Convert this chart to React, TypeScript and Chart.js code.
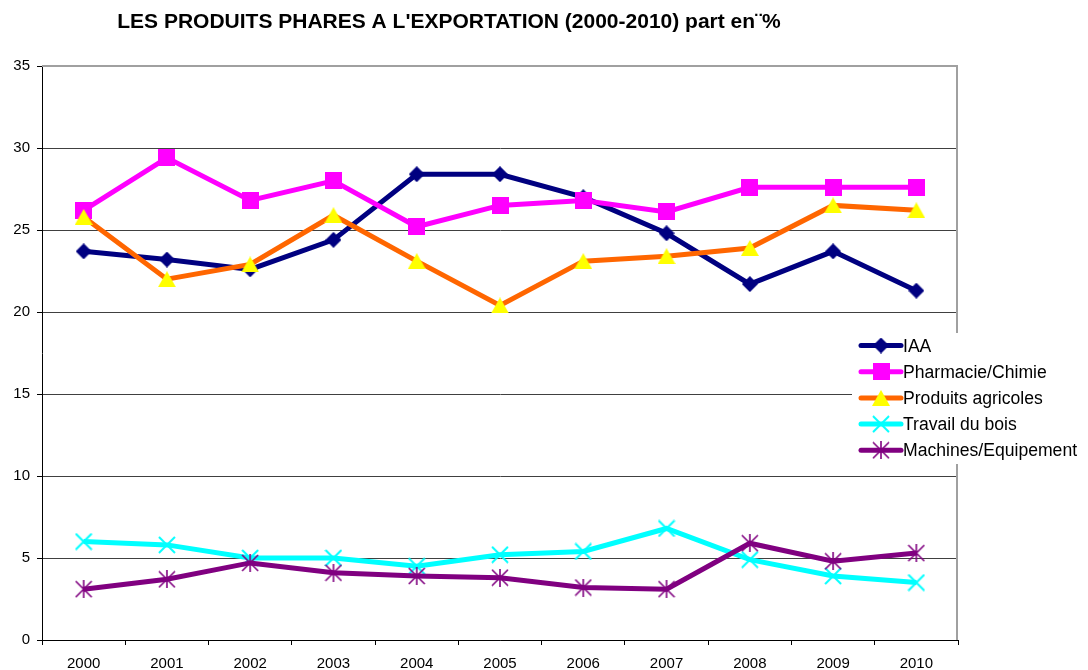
import React, { useEffect, useRef } from "react";
import { Chart, registerables } from "chart.js";

Chart.register(...registerables);

const years = ["2000", "2001", "2002", "2003", "2004", "2005", "2006", "2007", "2008", "2009", "2010"];
const iaa = [23.7, 23.2, 22.6, 24.4, 28.4, 28.4, 27.0, 24.8, 21.7, 23.7, 21.3];
const pharmacie = [26.2, 29.4, 26.8, 28.0, 25.2, 26.5, 26.8, 26.1, 27.6, 27.6, 27.6];
const agricoles = [25.8, 22.0, 22.9, 25.9, 23.1, 20.4, 23.1, 23.4, 23.9, 26.5, 26.2];
const bois = [6.0, 5.8, 5.0, 5.0, 4.5, 5.2, 5.4, 6.8, 4.9, 3.9, 3.5];
const machines = [3.1, 3.7, 4.7, 4.1, 3.9, 3.8, 3.2, 3.1, 5.9, 4.8, 5.3];
const seriesNames = ["IAA", "Pharmacie/Chimie", "Produits agricoles", "Travail du bois", "Machines/Equipement"];
const titleText = "LES PRODUITS PHARES A L'EXPORTATION (2000-2010) part en¨%";

const FONT = "'Liberation Sans', Arial, sans-serif";

function makeMarker(kind: string): HTMLCanvasElement {
  const c = document.createElement("canvas");
  const ctx = c.getContext("2d")!;
  if (kind === "diamond") {
    c.width = 16; c.height = 16;
    ctx.fillStyle = "#000080";
    ctx.beginPath();
    ctx.moveTo(0, 8); ctx.lineTo(8, 0); ctx.lineTo(16, 8); ctx.lineTo(8, 16); ctx.closePath();
    ctx.fill();
  } else if (kind === "square") {
    c.width = 17; c.height = 17;
    ctx.fillStyle = "#FF00FF";
    ctx.fillRect(0, 0, 17, 17);
  } else if (kind === "triangle") {
    c.width = 18; c.height = 16;
    ctx.fillStyle = "#FFFF00";
    ctx.beginPath();
    ctx.moveTo(9, 0); ctx.lineTo(18, 16); ctx.lineTo(0, 16); ctx.closePath();
    ctx.fill();
  } else if (kind === "cross") {
    c.width = 18; c.height = 18;
    ctx.strokeStyle = "#00FFFF";
    ctx.lineWidth = 2;
    ctx.beginPath();
    ctx.moveTo(1, 1); ctx.lineTo(17, 17);
    ctx.moveTo(17, 1); ctx.lineTo(1, 17);
    ctx.stroke();
  } else {
    c.width = 18; c.height = 18;
    ctx.strokeStyle = "#800080";
    ctx.lineWidth = 1.6;
    ctx.beginPath();
    ctx.moveTo(1, 1); ctx.lineTo(17, 17);
    ctx.moveTo(17, 1); ctx.lineTo(1, 17);
    ctx.moveTo(9, 0); ctx.lineTo(9, 18);
    ctx.stroke();
  }
  return c;
}

export default function App() {
  const ref = useRef<HTMLCanvasElement | null>(null);

  useEffect(() => {
    if (!ref.current) return;
    const markers = [
      makeMarker("diamond"),
      makeMarker("square"),
      makeMarker("triangle"),
      makeMarker("cross"),
      makeMarker("star"),
    ];
    const lineColors = ["#000080", "#FF00FF", "#FF6600", "#00FFFF", "#800080"];
    const values = [iaa, pharmacie, agricoles, bois, machines];

    const decor = {
      id: "decor",
      beforeDatasetsDraw(chart: any) {
        const { ctx, chartArea } = chart;
        ctx.save();
        ctx.strokeStyle = "#A0A0A0";
        ctx.lineWidth = 2;
        ctx.beginPath();
        ctx.moveTo(chartArea.left, chartArea.top);
        ctx.lineTo(chartArea.right - 1, chartArea.top);
        ctx.lineTo(chartArea.right - 1, chartArea.bottom);
        ctx.stroke();
        ctx.restore();
      },
      afterDraw(chart: any) {
        const { ctx } = chart;
        ctx.save();
        // title
        ctx.fillStyle = "#000";
        ctx.font = `bold 21px ${FONT}`;
        ctx.textAlign = "center";
        ctx.textBaseline = "alphabetic";
        ctx.fillText(titleText, 449, 28);
        // legend
        ctx.fillStyle = "#FFFFFF";
        ctx.fillRect(852, 333, 236, 131);
        ctx.font = `17.6px ${FONT}`;
        ctx.textAlign = "left";
        for (let i = 0; i < seriesNames.length; i++) {
          const y = 345.5 + i * 26.2;
          ctx.strokeStyle = lineColors[i];
          ctx.lineWidth = 5;
          ctx.lineCap = "round";
          ctx.beginPath();
          ctx.moveTo(861, y);
          ctx.lineTo(901, y);
          ctx.stroke();
          const m = markers[i];
          ctx.drawImage(m, 881 - m.width / 2, y - m.height / 2);
          ctx.fillStyle = "#000";
          ctx.fillText(seriesNames[i], 903, y + 6);
        }
        ctx.restore();
      },
    };

    const chart = new Chart(ref.current, {
      type: "line",
      data: {
        labels: years,
        datasets: seriesNames.map((name, i) => ({
          label: name,
          data: values[i],
          borderColor: lineColors[i],
          backgroundColor: lineColors[i],
          borderWidth: 5,
          pointStyle: markers[i],
          pointRadius: 8,
          pointHoverRadius: 8,
          tension: 0,
          fill: false,
          order: 5 - i,
        })),
      },
      options: {
        responsive: false,
        animation: false,
        events: [],
        layout: { padding: { left: 0, top: 66, right: 130, bottom: 0 } },
        plugins: {
          legend: { display: false },
          title: { display: false },
          tooltip: { enabled: false },
        },
        scales: {
          x: {
            type: "category",
            offset: true,
            grid: {
              offset: true,
              drawOnChartArea: false,
              drawTicks: true,
              tickLength: 5,
              tickColor: "#000",
            },
            border: { color: "#000", width: 1 },
            ticks: {
              color: "#000",
              font: { family: FONT, size: 15 },
              padding: 10,
              maxRotation: 0,
              autoSkip: false,
            },
            afterFit(scale: any) {
              scale.height = 30;
            },
          },
          y: {
            min: 0,
            max: 35,
            grid: {
              color: (c: any) => (c.tick && c.tick.value === 35 ? "rgba(0,0,0,0)" : "#404040"),
              lineWidth: 1,
              tickLength: 5,
              tickColor: "#000",
            },
            border: { color: "#000", width: 1 },
            ticks: {
              stepSize: 5,
              color: "#000",
              font: { family: FONT, size: 15 },
              padding: 7,
            },
            afterFit(scale: any) {
              scale.width = 42;
            },
          },
        },
      },
      plugins: [decor],
    });
    return () => chart.destroy();
  }, []);

  return (
    <div style={{ position: "absolute", left: 0, top: 0, width: 1088, height: 670, background: "#fff" }}>
      <canvas ref={ref} width={1088} height={670} />
    </div>
  );
}
